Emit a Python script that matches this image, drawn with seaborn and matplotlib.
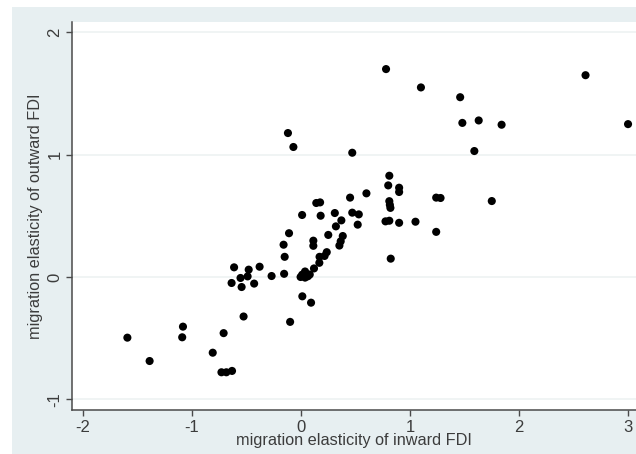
import matplotlib
matplotlib.use("Agg")
import matplotlib.pyplot as plt
import seaborn as sns
import pandas as pd
from matplotlib.patches import Rectangle

# migration elasticities
inward_fdi = [
    0.78, 1.10, 2.61, 1.46, 1.48, 1.63, 1.84, 3.00, 1.59,
    -0.12, -0.07, 0.47,
    0.81, 0.80, 0.90, 0.90, 0.60, 0.45, 1.24, 1.28, 1.75,
    0.81, 0.815, 0.82,
    0.14, 0.175, 0.01, 0.18, 0.31, 0.47, 0.53, 0.37, 0.52, 0.32,
    0.775, 0.81, 0.90, 1.05, 1.24,
    -0.11, -0.16, -0.15, -0.155,
    0.113, 0.113, 0.25, 0.383, 0.364, 0.352, 0.236, 0.216, 0.17, 0.168, 0.119,
    0.037, 0.011, -0.004, 0.063, 0.037, 0.08,
    0.012, 0.092, -0.10,
    -0.27, -0.38, -0.43, -0.48, -0.49, -0.555, -0.545, -0.614, -0.637,
    -0.527, -0.71, -0.81, -1.083, -1.09, -1.593, -1.389,
    -0.73, -0.685, -0.633, 0.823,
]
outward_fdi = [
    1.70, 1.55, 1.65, 1.47, 1.26, 1.28, 1.245, 1.25, 1.03,
    1.177, 1.063, 1.016,
    0.828, 0.749, 0.73, 0.695, 0.684, 0.649, 0.649, 0.646, 0.621,
    0.62, 0.59, 0.565,
    0.605, 0.61, 0.507, 0.501, 0.523, 0.526, 0.512, 0.463, 0.428, 0.414,
    0.455, 0.46, 0.443, 0.452, 0.369,
    0.358, 0.264, 0.165, 0.026,
    0.297, 0.255, 0.344, 0.335, 0.292, 0.257, 0.203, 0.172, 0.165, 0.116, 0.07,
    0.045, 0.019, 0.0, 0.006, -0.005, 0.02,
    -0.158, -0.21, -0.367,
    0.008, 0.084, -0.054, 0.06, 0.005, -0.008, -0.082, 0.079, -0.049,
    -0.323, -0.459, -0.619, -0.406, -0.493, -0.496, -0.687,
    -0.779, -0.779, -0.768, 0.15,
]
x_ticks = [-2, -1, 0, 1, 2, 3]
y_ticks = [-1, 0, 1, 2]

df = pd.DataFrame({"inward": inward_fdi, "outward": outward_fdi})

sns.set_style("white")
plt.rcParams["font.family"] = ["Liberation Sans", "DejaVu Sans"]

text_col = "#3c3c3c"
fig = plt.figure(figsize=(6.36, 4.54), dpi=100, facecolor="white")
# Stata-like graph region, behind the axes
bg = Rectangle((12 / 636, 0), 1, 447 / 454, transform=fig.transFigure,
               facecolor="#e7eff1", edgecolor="none", zorder=-10)
fig.add_artist(bg)

ax = fig.add_axes([72 / 636, 44 / 454, 564 / 636, 388 / 454])
ax.set_facecolor("white")

sns.scatterplot(data=df, x="inward", y="outward", ax=ax, color="black",
                s=34, edgecolor="none", linewidth=0, zorder=3)

ax.set_xlim(-2.101, 3.073)
ax.set_ylim(-1.0875, 2.085)
ax.set_xticks(x_ticks)
ax.set_yticks(y_ticks)
ax.set_xticklabels([str(v) for v in x_ticks], fontsize=12, color=text_col)
ax.set_yticklabels([str(v) for v in y_ticks], fontsize=12, color=text_col,
                   rotation=90, va="center")
ax.yaxis.grid(True, color="#eef2f2", lw=1.2, zorder=0)
ax.xaxis.grid(False)

for side in ["top", "right"]:
    ax.spines[side].set_visible(False)
for side in ["left", "bottom"]:
    ax.spines[side].set_color("#4a4a4a")
    ax.spines[side].set_linewidth(1.1)
ax.tick_params(axis="both", direction="out", length=4, width=1, color="#4a4a4a",
               pad=3, left=True, bottom=True)

ax.set_xlabel("migration elasticity of inward FDI", fontsize=11.7, color=text_col,
              labelpad=-1)
ax.set_ylabel("migration elasticity of outward FDI", fontsize=11.7, color=text_col,
              labelpad=3)

fig.savefig("out.png", dpi=100, facecolor=fig.get_facecolor())
